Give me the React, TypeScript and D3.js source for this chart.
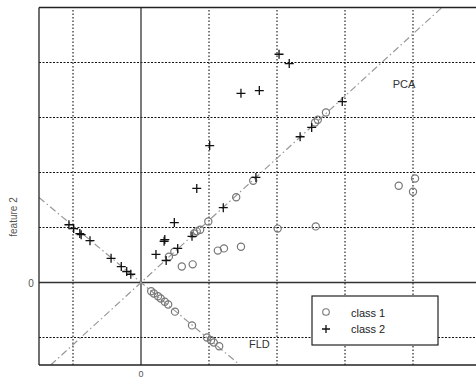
import React from "react";
import * as d3 from "d3";

const class1X = [0.41, 0.49, 0.60, 0.76, 0.78, 0.82, 0.87, 0.99, 1.13, 1.22, 1.47, 1.40, 1.65, 2.01, 2.57, 2.56, 2.60, 2.72, 3.79, 4.03, 4.00,
  0.15, 0.19, 0.25, 0.29, 0.35, 0.40, 0.50, 0.75, 0.97, 1.03, 1.07, 1.15];
const class1Y = [0.47, 0.56, 0.29, 0.33, 0.89, 0.93, 0.96, 1.11, 0.58, 0.62, 0.65, 1.55, 1.85, 0.98, 1.02, 2.91, 2.96, 3.09, 1.76, 1.89, 1.65,
  -0.16, -0.20, -0.25, -0.29, -0.35, -0.40, -0.53, -0.78, -1.00, -1.05, -1.09, -1.16];
const class2X = [2.03, 2.18, 1.47, 1.74, 2.96, 1.01, 2.51, 2.34, 1.69, 0.82, 1.21, 0.49, 0.35, 0.34, 0.22, 0.37, 0.54, 0.75,
  -1.06, -0.99, -0.90, -0.88, -0.75, -0.44, -0.29, -0.21, -0.15];
const class2Y = [4.15, 3.98, 3.44, 3.49, 3.29, 2.49, 2.82, 2.65, 1.91, 1.71, 1.36, 1.09, 0.78, 0.75, 0.51, 0.40, 0.62, 0.84,
  1.05, 0.98, 0.89, 0.87, 0.76, 0.44, 0.29, 0.20, 0.15];
const gridX = [-1, 0, 1, 2, 3, 4];
const gridY = [-1, 0, 1, 2, 3, 4];
const pcaSlope = 1.13;
const fldSlope = -1.03;
const legendLabels = ["class 1", "class 2"];

export default function App() {
  const W = 476, H = 378;
  const x = d3.scaleLinear().domain([-1.5, 5]).range([39, 481]);
  const y = d3.scaleLinear().domain([-1.5, 5]).range([365, 7.5]);
  const [x0, x1] = x.domain();
  const [y0, y1] = y.domain();
  const lineFor = (s: number) => {
    const pts: [number, number][] = [];
    const xa = Math.max(x0, Math.min(y0 / s, y1 / s));
    const xb = Math.min(x1, Math.max(y0 / s, y1 / s));
    pts.push([xa, s * xa], [xb, s * xb]);
    return d3.line<[number, number]>().x(d => x(d[0])).y(d => y(d[1]))(pts) || "";
  };
  const c1 = class1X.map((v, i) => [v, class1Y[i]]);
  const c2 = class2X.map((v, i) => [v, class2Y[i]]);
  const font = "Arial, 'Liberation Sans', sans-serif";
  return (
    <svg width={W} height={H} style={{ position: "absolute", left: 0, top: 0, background: "#fff" }}>
      <defs>
        <clipPath id="plot"><rect x={39} y={7.5} width={442} height={357.5} /></clipPath>
      </defs>
      <g clipPath="url(#plot)">
        {gridX.filter(v => v !== 0).map(v => (
          <line key={"gx" + v} x1={x(v)} x2={x(v)} y1={y(y0)} y2={y(y1)} stroke="#111" strokeWidth={1.1} strokeDasharray="1.5,2" />
        ))}
        {gridY.filter(v => v !== 0).map(v => (
          <line key={"gy" + v} x1={x(x0)} x2={x(x1)} y1={y(v)} y2={y(v)} stroke="#111" strokeWidth={1.1} strokeDasharray="2,1.5" />
        ))}
        <line x1={x(0)} x2={x(0)} y1={y(y0)} y2={y(y1)} stroke="#333" strokeWidth={1.3} />
        <line x1={x(x0)} x2={x(x1)} y1={y(0)} y2={y(0)} stroke="#333" strokeWidth={1.3} />
        <path d={lineFor(pcaSlope)} stroke="#999" strokeWidth={1.2} fill="none" strokeDasharray="7,3,1.5,3" />
        <path d={lineFor(fldSlope)} stroke="#999" strokeWidth={1.2} fill="none" strokeDasharray="7,3,1.5,3" />
        {c1.map((d, i) => (
          <circle key={"c1" + i} cx={x(d[0])} cy={y(d[1])} r={3.6} fill="none" stroke="#777" strokeWidth={1.2} />
        ))}
        {c2.map((d, i) => (
          <path key={"c2" + i} d={`M${x(d[0]) - 4.5},${y(d[1])}h9M${x(d[0])},${y(d[1]) - 4.5}v9`} stroke="#111" strokeWidth={1.3} />
        ))}
      </g>
      <line x1={39} x2={39} y1={7.5} y2={365} stroke="#222" strokeWidth={1.3} />
      <line x1={39} x2={W} y1={7.5} y2={7.5} stroke="#222" strokeWidth={1.3} />
      <line x1={39} x2={W} y1={365} y2={365} stroke="#222" strokeWidth={1.3} />
      <text x={404} y={84} fontFamily={font} fontSize={11} fill="#333" textAnchor="middle" dominantBaseline="central">PCA</text>
      <text x={249} y={344} fontFamily={font} fontSize={11} fill="#333" dominantBaseline="central">FLD</text>
      <text x={31} y={283} fontFamily={font} fontSize={10} fill="#555" textAnchor="middle" dominantBaseline="central">0</text>
      <text x={141} y={377} fontFamily={font} fontSize={9} fill="#555" textAnchor="middle">0</text>
      <text transform="translate(13,217) rotate(-90)" fontFamily={font} fontSize={10} fill="#555" textAnchor="middle" dominantBaseline="central">feature 2</text>
      <rect x={312} y={296} width={126} height={49} fill="#fff" stroke="#222" strokeWidth={1.2} />
      <circle cx={326} cy={312} r={3.3} fill="none" stroke="#777" strokeWidth={1.1} />
      <path d="M322,329h8M326,325v8" stroke="#111" strokeWidth={1.3} />
      {legendLabels.map((t, i) => (
        <text key={t} x={351} y={313 + i * 16} fontFamily={font} fontSize={11} fill="#222" dominantBaseline="central">{t}</text>
      ))}
    </svg>
  );
}
